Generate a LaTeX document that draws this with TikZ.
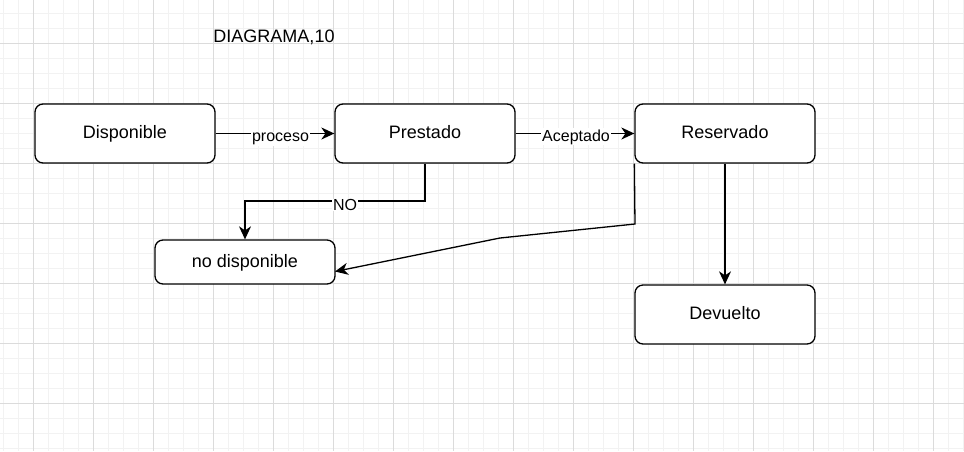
\documentclass[tikz,border=0pt]{standalone}
\usepackage{fontspec}
\setmainfont{Liberation Sans}
\usetikzlibrary{arrows.meta}
\begin{document}
\begin{tikzpicture}[x=1pt,y=-1pt,
  box/.style={draw=black,line width=1.3pt,rounded corners=8pt,fill=white,minimum width=180pt,inner sep=0pt,text height=13pt,text depth=3pt,font=\fontsize{18}{20}\selectfont},
  conn/.style={draw=black,line width=1.3pt,-{Stealth[length=13pt,width=12pt,inset=4pt]}},
  lbl/.style={fill=white,inner xsep=1pt,inner ysep=1pt,anchor=base,font=\fontsize{16}{18}\selectfont}]
\useasboundingbox (0,0) rectangle (964,451);
% grid
\foreach \x in {3,18,...,963} \draw[color=black!5,line width=0.8pt] (\x,0) -- (\x,451);
\foreach \y in {13,28,...,450} \draw[color=black!5,line width=0.8pt] (0,\y) -- (964,\y);
\foreach \x in {33,93,...,963} \draw[color=black!14,line width=0.8pt] (\x,0) -- (\x,451);
\foreach \y in {43,103,...,450} \draw[color=black!14,line width=0.8pt] (0,\y) -- (964,\y);
% title
\node[font=\fontsize{18}{20}\selectfont,anchor=base] (title) at (274,42) {DIAGRAMA,10};
% boxes
\node[box,minimum height=59pt] (disp) at (125,133.5) {Disponible};
\node[box,minimum height=59pt] (prest) at (425,133.5) {Prestado};
\node[box,minimum height=59pt] (res) at (725,133.5) {Reservado};
\node[box,minimum height=44pt] (nodisp) at (245,262) {no disponible};
\node[box,minimum height=59pt] (dev) at (725,314.5) {Devuelto};
% connectors
\draw[conn] (disp.east) -- (prest.west);
\node[lbl] (lproc) at (280.5,141.5) {proceso};
\draw[conn] (prest.east) -- (res.west);
\node[lbl] (lacep) at (576,141) {Aceptado};
\coordinate (b1) at (425,201);
\coordinate (b2) at (245,201);
\draw[conn] (prest.south) -- (b1) -- (b2) -- (nodisp.north);
\node[lbl,inner ysep=0pt] (lno) at (345,210.5) {NO};
\coordinate (c1) at (635,224);
\coordinate (c2) at (500,238);
\coordinate (c3) at (335,271.5);
\draw[conn] (res.south west) -- (c1) -- (c2) -- (c3);
\draw[conn] (res.south) -- (dev.north);
\end{tikzpicture}
\end{document}
